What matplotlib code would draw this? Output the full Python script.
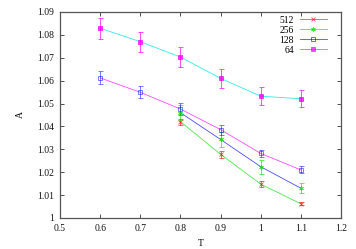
import matplotlib
matplotlib.use('Agg')
import matplotlib.pyplot as plt
from matplotlib.lines import Line2D

plt.rcParams['font.family'] = 'Liberation Serif'
plt.rcParams['font.size'] = 6.9

# data
T_long = [0.6, 0.7, 0.8, 0.9, 1.0, 1.1]
T_short = [0.8, 0.9, 1.0, 1.1]

A_64 = [1.0829, 1.0770, 1.0703, 1.0610, 1.0532, 1.0521]
err_64 = [0.0046, 0.0043, 0.0042, 0.0040, 0.0039, 0.0037]
A_128 = [1.0612, 1.0549, 1.0476, 1.0386, 1.0282, 1.0210]
err_128 = [0.0028, 0.0026, 0.0025, 0.0022, 0.0017, 0.0015]
A_256 = [1.0460, 1.0343, 1.0224, 1.0130]
err_256 = [0.0032, 0.0032, 0.0030, 0.0022]
A_512 = [1.0421, 1.0278, 1.0148, 1.0062]
err_512 = [0.0013, 0.0016, 0.0012, 0.0006]

x_ticks = [0.5, 0.6, 0.7, 0.8, 0.9, 1.0, 1.1, 1.2]
x_labels = ['0.5', '0.6', '0.7', '0.8', '0.9', '1', '1.1', '1.2']
y_ticks = [1.0, 1.01, 1.02, 1.03, 1.04, 1.05, 1.06, 1.07, 1.08, 1.09]
y_labels = ['1', '1.01', '1.02', '1.03', '1.04', '1.05', '1.06', '1.07', '1.08', '1.09']

red, green, blue, magenta, cyan = '#ff0000', '#00e000', '#0000ff', '#ff00ff', '#00e5e5'

fig = plt.figure(figsize=(3.56, 2.49), dpi=100)
ax = fig.add_axes([0.1685, 0.1245, 0.7895, 0.8275])

# connecting lines (gnuplot draws them in the next colour)
ax.plot(T_short, A_512, color=green, linewidth=0.6, alpha=0.7)
ax.plot(T_short, A_256, color=blue, linewidth=0.6, alpha=0.7)
ax.plot(T_long, A_128, color=magenta, linewidth=0.6, alpha=0.7)
ax.plot(T_long, A_64, color=cyan, linewidth=0.6, alpha=0.8)

eb = dict(linestyle='none', elinewidth=0.6, capsize=1.8, capthick=0.6, markersize=3.2)
ax.errorbar(T_short, A_512, yerr=err_512, color=red, marker='x', mew=0.6, alpha=0.7, **eb)
ax.errorbar(T_short, A_256, yerr=err_256, color=green, marker=(6, 2, 0), mew=0.6, alpha=0.7, **eb)
ax.errorbar(T_long, A_128, yerr=err_128, color=blue, marker='s', mfc='none', mew=0.6, alpha=0.6, **eb)
ax.errorbar(T_long, A_64, yerr=err_64, color=magenta, marker='s', mew=0.6, alpha=0.8, **eb)

ax.set_xlim(0.5, 1.2)
ax.set_ylim(1.0, 1.09)
ax.set_xticks(x_ticks)
ax.set_xticklabels(x_labels)
ax.set_yticks(y_ticks)
ax.set_yticklabels(y_labels)
ax.tick_params(direction='in', length=3, width=0.6, top=True, right=True,
               colors='#333333', labelcolor='#111111', pad=4)
for s in ax.spines.values():
    s.set_color('#555555')
    s.set_linewidth(0.9)

ax.set_xlabel('T', labelpad=5)
ax.set_ylabel('A', labelpad=9)

# gnuplot style key
handles = []
for c, m, fill in [(red, 'x', None), (green, (6, 2, 0), None), (blue, 's', 'none'), (magenta, 's', None)]:
    handles.append(Line2D([0], [0], color=c, linewidth=0.6, marker=m, markersize=3.2,
                          mfc=fill if fill else c, mew=0.6, alpha=0.7))
leg = ax.legend(handles, ['512', '256', '128', '64'], loc='upper right',
                frameon=False, markerfirst=False, handlelength=2.9,
                handletextpad=0.6, labelspacing=0.1, borderaxespad=0.0,
                bbox_to_anchor=(0.965, 1.0))

fig.savefig('out.png', dpi=100)
